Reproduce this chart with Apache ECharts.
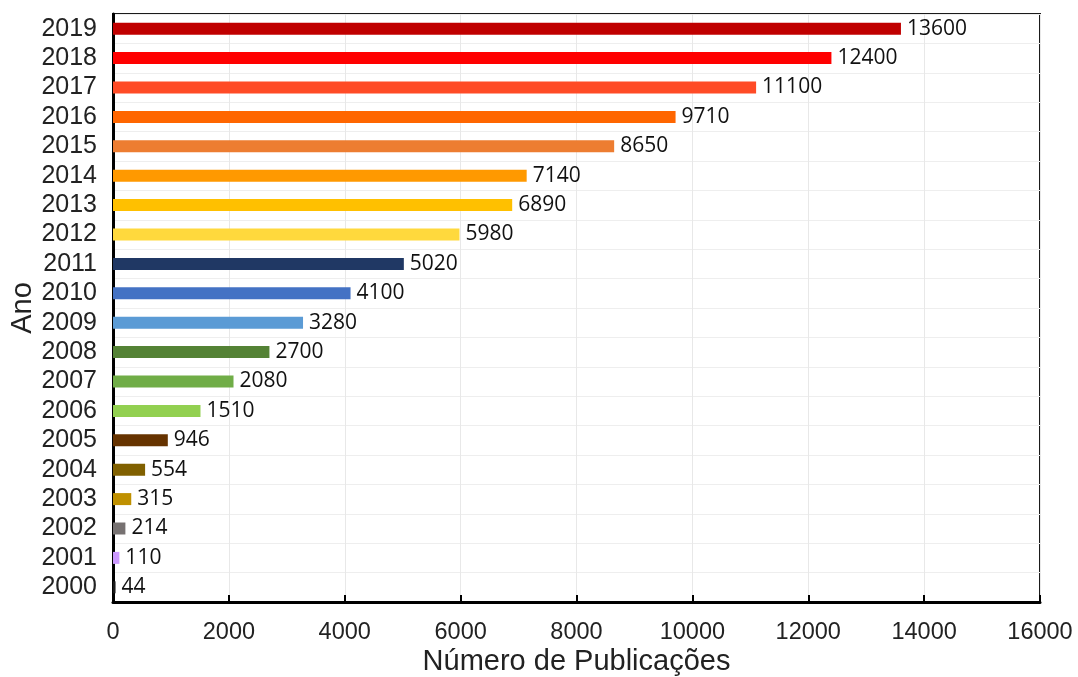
<!DOCTYPE html>
<html><head><meta charset="utf-8">
<script src="https://cdn.jsdelivr.net/npm/echarts@6/dist/echarts.min.js"></script>
<style>html,body{margin:0;padding:0;background:#fff}#c{width:1078px;height:677px}</style>
</head><body><div id="c"></div>
<script>
var years = ['2000','2001','2002','2003','2004','2005','2006','2007','2008','2009','2010','2011','2012','2013','2014','2015','2016','2017','2018','2019'];
var values = [44,110,214,315,554,946,1510,2080,2700,3280,4100,5020,5980,6890,7140,8650,9710,11100,12400,13600];
var colors = ['#1a1a1a','#CC99FF','#767171','#BF9000','#806000','#663300','#92D050','#70AD47','#548235','#5B9BD5','#4472C4','#203864','#FFD93D','#FFC000','#FF9900','#ED7D31','#FF6600','#FF4B26','#FF0000','#C00000'];
var xTicks = [0,2000,4000,6000,8000,10000,12000,14000,16000];

var chart = echarts.init(document.getElementById('c'));
chart.setOption({
  animation:false,
  grid:{left:113,right:38,top:14,bottom:75,outerBoundsMode:'none',containLabel:false,show:true,borderColor:'#1a1a1a',borderWidth:2,backgroundColor:'transparent'},
  xAxis:{type:'value',min:xTicks[0],max:xTicks[xTicks.length-1],interval:2000,
    name:'Número de Publicações',nameLocation:'middle',nameGap:45,nameMoveOverlap:false,
    nameTextStyle:{fontFamily:'Liberation Sans',fontSize:29,color:'#222'},
    axisLine:{show:true,lineStyle:{color:'#000',width:3}},
    axisTick:{show:true,inside:true,length:7,lineStyle:{color:'#000',width:2}},
    axisLabel:{fontFamily:'Liberation Sans',fontSize:23.5,color:'#222',margin:19,
      formatter:function(v){return String(v);}},
    splitLine:{show:true,lineStyle:{color:'#e8e8e8',width:1}}},
  yAxis:{type:'category',data:years,
    name:'Ano',nameLocation:'middle',nameGap:76,nameMoveOverlap:false,
    nameTextStyle:{fontFamily:'Liberation Sans',fontSize:29,color:'#222'},
    axisLine:{show:true,lineStyle:{color:'#000',width:3}},
    axisTick:{show:false},
    axisLabel:{interval:0,fontFamily:'Liberation Sans',fontSize:25,color:'#222',margin:16},
    splitLine:{show:true,interval:0,lineStyle:{color:'#eeeeee',width:1}}},
  series:[{type:'bar',barWidth:12,
    data:values.map(function(v,i){return {value:v,itemStyle:{color:colors[i]}};}),
    label:{show:true,position:'right',distance:6,fontFamily:'Open Sans',fontSize:21,color:'#111'}}]
});
</script></body></html>
